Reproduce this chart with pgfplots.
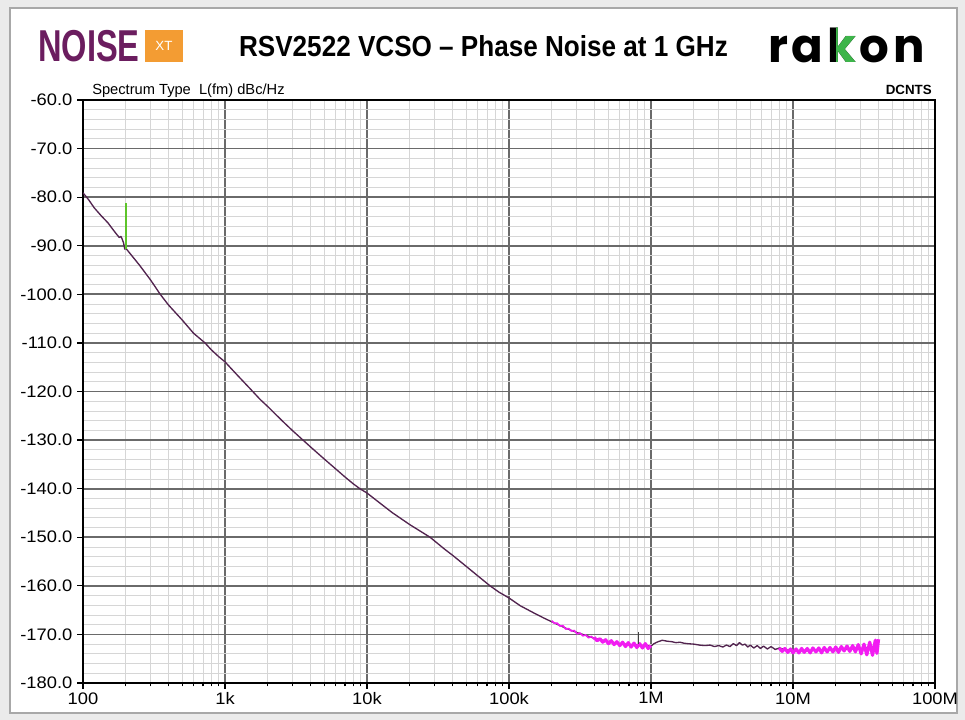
\documentclass[border=0pt]{standalone}
\usepackage{fontspec}
\setmainfont{Liberation Sans}
\newfontfamily\tickfont[FakeStretch=1.1]{Liberation Sans}
\newfontfamily\titlefont[FakeStretch=0.9]{Liberation Sans}
\newfontfamily\noisefont[FakeStretch=0.73]{Liberation Sans}
\newfontfamily\rakonfont[LetterSpace=8]{Poppins}
\usepackage{pgfplots}
\pgfplotsset{compat=1.18}
\definecolor{bggray}{HTML}{EBEBEB}
\definecolor{panelborder}{HTML}{A8A8A8}
\definecolor{noisepurple}{HTML}{6B1D5F}
\definecolor{xtorange}{HTML}{F39C33}
\definecolor{majgrid}{HTML}{6A6A6A}
\definecolor{mingrid}{HTML}{D6D6D6}
\definecolor{curve}{HTML}{52244F}
\definecolor{mag}{HTML}{F21DF2}
\definecolor{spikegreen}{HTML}{5DC42A}
\definecolor{rakongreen}{HTML}{3DB54A}
\newlength\rawidth
\newlength\rakwidth
\newcommand\rakonstyle{\rakonfont\bfseries\fontsize{35pt}{35pt}\selectfont}
\begin{document}%
\settowidth{\rawidth}{\rakonstyle ra}%
\settowidth{\rakwidth}{\rakonstyle rak}%
\begin{tikzpicture}[x=0.75pt,y=0.75pt]
\fill[bggray] (0,0) rectangle (965,720);
\filldraw[fill=white,draw=panelborder,line width=1.2pt] (10,7) rectangle (957,712);
% logos and title
\node[anchor=base west,inner sep=0] at (38,658) {\noisefont\bfseries\fontsize{33.5pt}{33.5pt}\selectfont\color{noisepurple}NOISE};
\fill[xtorange] (145,658) rectangle (183,690);
\node[inner sep=0] at (164,674) {\fontsize{10pt}{10pt}\selectfont\color{white}XT};
\node[anchor=base,inner sep=0] at (483.5,663) {\titlefont\bfseries\fontsize{21.75pt}{21.75pt}\selectfont RSV2522 VCSO – Phase Noise at 1 GHz};
\node[anchor=base west,inner sep=0] at (768,657) {\rakonstyle rakon};
\begin{scope}
\clip ([xshift=\rawidth+9.5pt]768,640) rectangle ([xshift=\rakwidth]768,700);
\node[anchor=base west,inner sep=0] at (768,657) {\rakonstyle\color{rakongreen}rakon};
\end{scope}
\node[anchor=base west,inner sep=0] at (92,625) {\fontsize{11pt}{11pt}\selectfont Spectrum Type\ \ L(fm) dBc/Hz};
\node[anchor=base east,inner sep=0] at (932,625) {\bfseries\fontsize{10pt}{10pt}\selectfont DCNTS};
\begin{axis}[
  at={(62.25pt,27.75pt)}, anchor=south west,
  width=639pt, height=437.25pt, scale only axis,
  xmode=log, xmin=100, xmax=1e8, ymin=-180, ymax=-60,
  axis line style={black, line width=1.2pt},
  xtick={1e2,1e3,1e4,1e5,1e6,1e7,1e8},
  xticklabels={100,1k,10k,100k,1M,10M,100M},
  minor xtick={200,300,400,500,600,700,800,900,2000,3000,4000,5000,6000,7000,8000,9000,20000,30000,40000,50000,60000,70000,80000,90000,200000,300000,400000,500000,600000,700000,800000,900000,2000000,3000000,4000000,5000000,6000000,7000000,8000000,9000000,20000000,30000000,40000000,50000000,60000000,70000000,80000000,90000000},
  ytick={-180,-170,-160,-150,-140,-130,-120,-110,-100,-90,-80,-70,-60},
  yticklabels={-180.0,-170.0,-160.0,-150.0,-140.0,-130.0,-120.0,-110.0,-100.0,-90.0,-80.0,-70.0,-60.0},
  minor ytick={-178,-176,-174,-172,-168,-166,-164,-162,-158,-156,-154,-152,-148,-146,-144,-142,-138,-136,-134,-132,-128,-126,-124,-122,-118,-116,-114,-112,-108,-106,-104,-102,-98,-96,-94,-92,-88,-86,-84,-82,-78,-76,-74,-72,-68,-66,-64,-62},
  grid=both,
  major grid style={color=majgrid, line width=1.35pt},
  minor grid style={color=mingrid, line width=0.6pt},
  tick align=outside, xtick pos=bottom, ytick pos=left,
  major tick length=4.5pt, minor tick length=2.5pt,
  tick style={black, line width=0.9pt},
  minor y tick style={draw=none},
  tick label style={font=\tickfont\fontsize{12.5pt}{12.5pt}\selectfont},
  xticklabel style={yshift=1pt},
  clip=true,
]
\addplot[color=curve, line width=1.0pt, line join=round] coordinates {
(100,-79.1) (110,-80.6) (120,-82.2) (135,-83.9) (150,-85.3) (160,-86.4) (170,-87.4) (180,-88.3) (185,-88.1) (188,-88.5) (193,-89.4) (197,-90.7) (200,-90.5)
(220,-92.0) (250,-94.0) (300,-97.1) (350,-100.0) (400,-102.2) (500,-105.3) (600,-108.0) (723,-110.0) (800,-111.4) (900,-112.8) (1000,-113.9)
(1200,-116.4) (1500,-119.4) (1763,-121.6) (2000,-123.1) (2500,-125.9) (3000,-128.1) (3540,-130.0) (4000,-131.4) (5000,-133.9) (6000,-135.9) (7000,-137.6) (8000,-139.0) (8900,-140.0) (10000,-140.9)
(12000,-142.7) (15000,-144.9) (20000,-147.4) (27800,-150.0) (35000,-152.4) (40000,-153.7) (50000,-156.0) (60000,-157.9) (73500,-160.0) (85000,-161.3) (100000,-162.5)
(120000,-164.1) (150000,-165.6) (175000,-166.6) (200000,-167.4) (250000,-168.7) (300000,-169.6) (400000,-170.8) (500000,-171.5) (600000,-171.9) (700000,-172.1) (800000,-172.2) (1000000,-172.4)
(1050000,-171.9) (1100000,-171.6) (1150000,-171.4) (1200000,-171.2) (1300000,-171.4) (1400000,-171.5) (1500000,-171.7) (1600000,-171.6) (1700000,-171.8) (1800000,-171.9) (2000000,-172.0)
(2200000,-172.2) (2400000,-172.3) (2600000,-172.2) (2800000,-172.5) (3000000,-172.3) (3200000,-172.6) (3400000,-172.2) (3600000,-172.5) (3800000,-171.9) (4000000,-172.3) (4200000,-171.7) (4400000,-172.2)
(4600000,-172.0) (4800000,-172.6) (5000000,-172.2) (5300000,-172.8) (5600000,-172.3) (5900000,-172.9) (6200000,-172.4) (6600000,-173.0) (7000000,-172.5) (7500000,-173.1) (8000000,-172.8)
(9000000,-173.2) (10000000,-173.3) (12000000,-173.4) (15000000,-173.2) (20000000,-173.1) (25000000,-173.0) (30000000,-172.9) (35000000,-172.7) (40000000,-172.4)
};
\addplot[color=mag, line width=1.2pt, line join=round] coordinates {
(200000,-167.2) (209000,-167.7) (219000,-167.7) (229000,-168.3) (240000,-168.2) (251000,-168.9) (263000,-168.8) (275000,-169.3) (288000,-169.2) (302000,-169.9)
(316000,-169.7) (331000,-170.3) (347000,-170.1) (363000,-170.7) (380000,-170.4) (398000,-171.0)
};
\addplot[color=mag, line width=2.4pt, line join=round] coordinates {
(398000,-170.6) (417000,-171.3) (437000,-170.9) (457000,-171.6) (479000,-171.1) (501000,-171.9) (525000,-171.3) (550000,-172.1) (575000,-171.5) (603000,-172.3)
(631000,-171.6) (661000,-172.5) (692000,-171.7) (724000,-172.6) (759000,-171.8) (794000,-172.7) (832000,-171.9) (871000,-172.8) (912000,-171.9) (955000,-172.9) (1000000,-172.3)
};
\addplot[color=mag, line width=2.4pt, line join=round] coordinates {
(8000000,-172.8) (8380000,-173.5) (8770000,-172.9) (9180000,-173.7) (9610000,-173.0) (10000000,-173.8) (10500000,-173.0) (11000000,-173.8) (11500000,-172.9) (12000000,-173.7)
(12600000,-172.9) (13200000,-173.8) (13800000,-172.8) (14500000,-173.6) (15200000,-172.8) (15900000,-173.8) (16600000,-172.7) (17400000,-173.6) (18200000,-172.7) (19100000,-173.6)
(20000000,-172.6) (20900000,-173.7) (21900000,-172.5) (22900000,-173.4) (24000000,-172.4) (25100000,-173.5) (26300000,-172.3) (27500000,-173.6) (28800000,-172.1) (30200000,-174.0)
(31600000,-172.0) (33100000,-174.2) (34700000,-171.6) (36300000,-174.3) (38000000,-171.2) (39000000,-173.9) (40000000,-171.0)
};
\addplot[color=spikegreen, line width=1.2pt] coordinates {(200,-81.2) (200,-90.6)};
\addplot[color=black!75, line width=0.6pt] coordinates {(809000,-172.0) (809000,-169.5)};
\end{axis}
\end{tikzpicture}%
\end{document}
